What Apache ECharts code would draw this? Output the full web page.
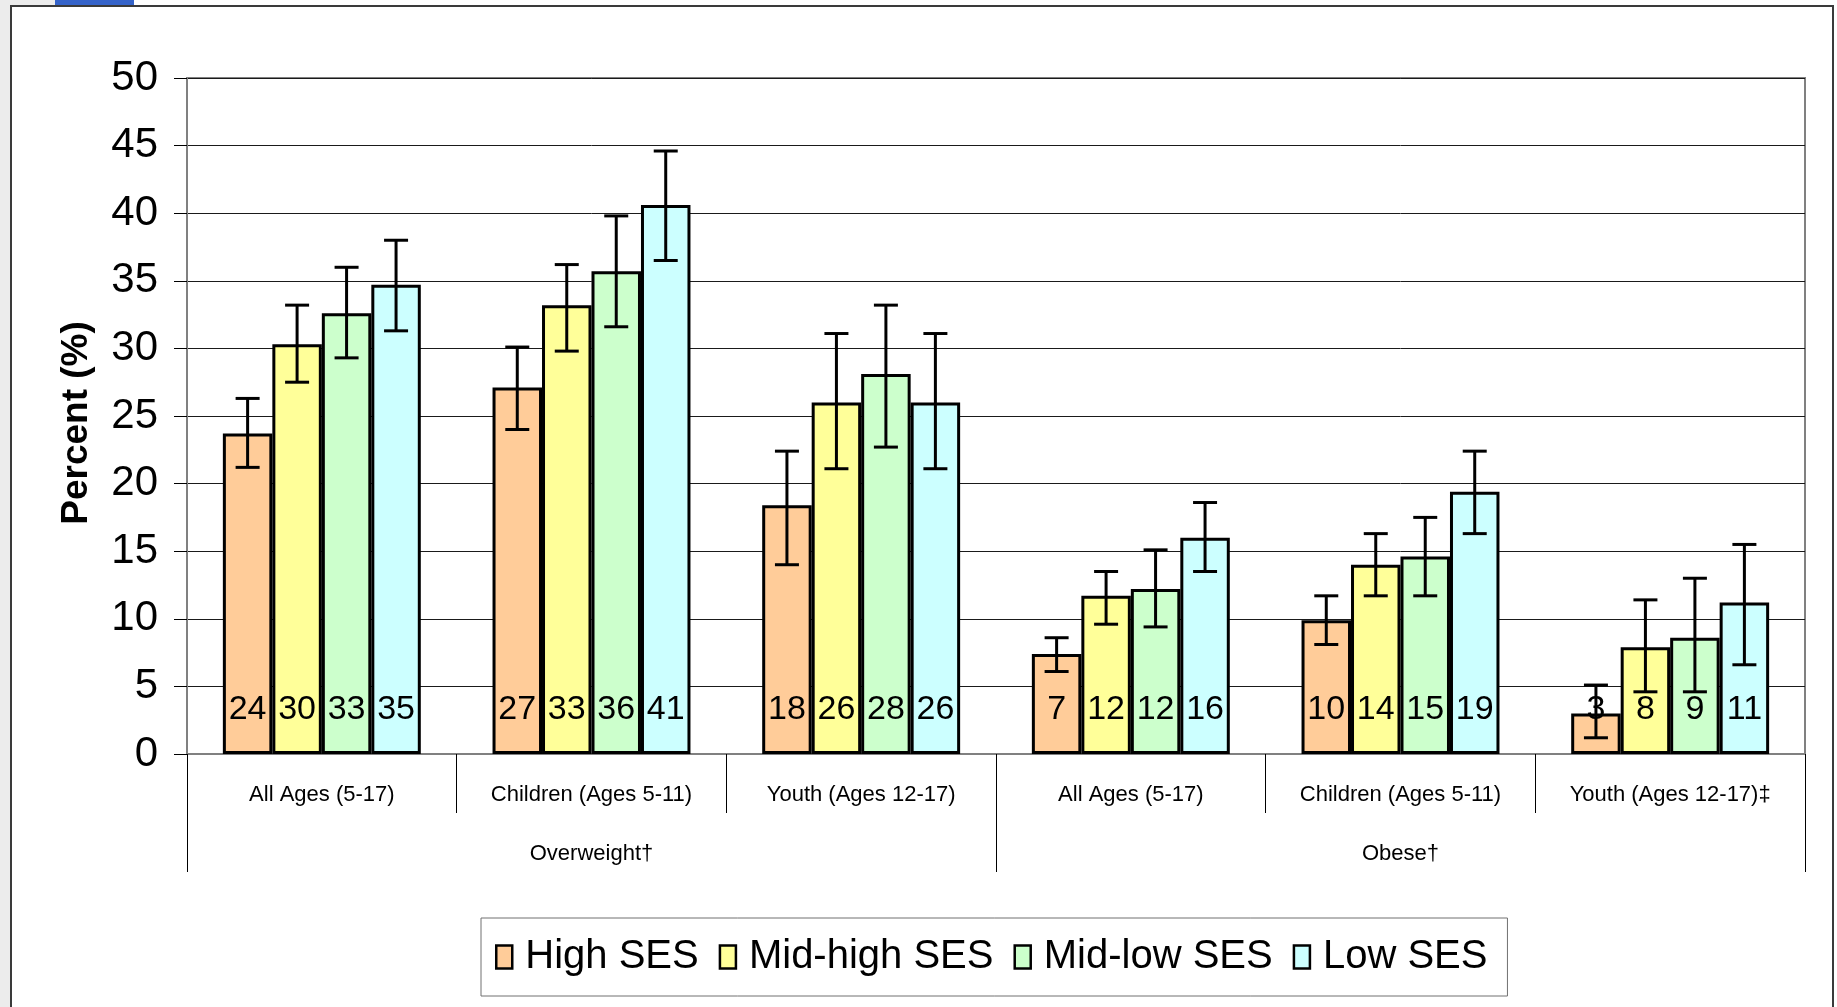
<!DOCTYPE html>
<html>
<head>
<meta charset="utf-8">
<script src="https://cdn.jsdelivr.net/npm/echarts@6/dist/echarts.min.js"></script>
<style>
  html, body { margin: 0; padding: 0; background: #fff; }
  #chart { width: 1837px; height: 1007px; }
</style>
</head>
<body>
<div id="chart"></div>
<script>
// categories
const subCats = ['All Ages (5-17)', 'Children (Ages 5-11)', 'Youth (Ages 12-17)',
                 'All Ages (5-17)', 'Children (Ages 5-11)', 'Youth (Ages 12-17)\u2021'];
const groupCats = ['Overweight\u2020', 'Obese\u2020'];
const seriesNames = ['High SES', 'Mid-high SES', 'Mid-low SES', 'Low SES'];
const yTicks = [0, 5, 10, 15, 20, 25, 30, 35, 40, 45, 50];

// bar values (%)
const highSES    = [23.7, 27.1, 18.4, 7.4, 9.9, 3.0];
const midHighSES = [30.3, 33.2, 26.0, 11.7, 14.0, 7.9];
const midLowSES  = [32.6, 35.7, 28.1, 12.2, 14.6, 8.6];
const lowSES     = [34.7, 40.6, 26.0, 16.0, 19.4, 11.2];

// confidence intervals (lower / upper)
const highLo    = [21.2, 24.0, 14.0, 6.1, 8.1, 1.2];
const highHi    = [26.3, 30.1, 22.4, 8.6, 11.7, 5.1];
const midHighLo = [27.5, 29.8, 21.1, 9.6, 11.7, 4.6];
const midHighHi = [33.2, 36.2, 31.1, 13.5, 16.3, 11.4];
const midLowLo  = [29.3, 31.6, 22.7, 9.4, 11.7, 4.6];
const midLowHi  = [36.0, 39.8, 33.2, 15.1, 17.5, 13.0];
const lowLo     = [31.3, 36.5, 21.1, 13.5, 16.3, 6.6];
const lowHi     = [38.0, 44.6, 31.1, 18.6, 22.4, 15.5];

const COLORS = ['#FFCC99', '#FFFF99', '#CCFFCC', '#CCFFFF'];
const FONT = "'Liberation Sans', Arial, sans-serif";
const CAT_GAP = 0.266;

const values = [highSES, midHighSES, midLowSES, lowSES];
const lows = [highLo, midHighLo, midLowLo, lowLo];
const highs = [highHi, midHighHi, midLowHi, lowHi];

// error bar drawn over bar k of each category
function errorBar(k) {
    return function (params, api) {
        const cat = api.value(0);
        const lo = api.coord([cat, api.value(1)]);
        const hi = api.coord([cat, api.value(2)]);
        const band = api.size([1, 0])[0];
        const barW = band * (1 - CAT_GAP) / 4;
        const x = lo[0] + (k - 1.5) * barW;
        const cap = 12;
        const style = { stroke: '#000', lineWidth: 3 };
        return {
            type: 'group',
            children: [
                { type: 'line', shape: { x1: x, y1: lo[1], x2: x, y2: hi[1] }, style: style },
                { type: 'line', shape: { x1: x - cap, y1: lo[1], x2: x + cap, y2: lo[1] }, style: style },
                { type: 'line', shape: { x1: x - cap, y1: hi[1], x2: x + cap, y2: hi[1] }, style: style }
            ]
        };
    };
}

const barSeries = seriesNames.map(function (name, k) {
    return {
        name: name,
        type: 'bar',
        xAxisIndex: 0,
        data: values[k],
        barGap: '0%',
        barCategoryGap: (CAT_GAP * 100) + '%',
        itemStyle: { color: COLORS[k], borderColor: '#000', borderWidth: 3 },
        label: {
            show: true,
            position: 'insideBottom',
            distance: 27,
            fontSize: 34,
            fontFamily: FONT,
            color: '#000',
            formatter: function (p) { return Math.round(p.value); }
        },
        z: 2
    };
});

const errSeries = seriesNames.map(function (name, k) {
    return {
        name: name + ' CI',
        type: 'custom',
        xAxisIndex: 0,
        renderItem: errorBar(k),
        encode: { x: 0, y: [1, 2] },
        data: values[k].map(function (v, i) { return [i, lows[k][i], highs[k][i]]; }),
        z: 5,
        silent: true
    };
});

const chart = echarts.init(document.getElementById('chart'));
chart.setOption({
    backgroundColor: '#fff',
    animation: false,
    textStyle: { fontFamily: FONT },
    graphic: [
        { type: 'rect', z: -10, shape: { x: 0, y: 0, width: 1837, height: 1007 }, style: { fill: '#ececec' } },
        { type: 'rect', z: -10, shape: { x: 130, y: 0, width: 1707, height: 7 }, style: { fill: '#fff' } },
        { type: 'rect', z: -10, shape: { x: 55, y: 0, width: 79, height: 5 }, style: { fill: '#3563c9' } },
        { type: 'rect', z: -10, shape: { x: 1834, y: 0, width: 3, height: 1007 }, style: { fill: '#fff' } },
        { type: 'rect', z: -9, shape: { x: 11, y: 6, width: 1822, height: 1010 }, style: { fill: '#fff', stroke: '#3a3a3a', lineWidth: 2 } }
    ],
    legend: {
        data: seriesNames,
        left: 481,
        top: 918,
        orient: 'horizontal',
        padding: [19, 20, 19, 14],
        itemGap: 20,
        itemWidth: 16,
        itemHeight: 23,
        icon: 'rect',
        borderColor: '#707070',
        borderWidth: 1,
        backgroundColor: '#fff',
        itemStyle: { borderColor: '#000', borderWidth: 2.5 },
        textStyle: { fontSize: 40, color: '#000', fontFamily: FONT, padding: [0, 0, 0, 8] }
    },
    grid: {
        left: 187,
        right: 32,
        top: 78,
        bottom: 253,
        show: true,
        borderColor: '#808080',
        borderWidth: 2,
        containLabel: false
    },
    xAxis: [
        {
            type: 'category',
            data: subCats,
            position: 'bottom',
            axisLine: { show: true, lineStyle: { color: '#808080', width: 2 } },
            axisTick: { show: true, interval: 0, length: 59, lineStyle: { color: '#000', width: 1 } },
            axisLabel: { interval: 0, margin: 30, fontSize: 22, color: '#000', fontFamily: FONT },
            splitLine: { show: false }
        },
        {
            type: 'category',
            data: groupCats,
            position: 'bottom',
            axisLine: { show: false },
            axisTick: { show: true, interval: 0, length: 118, lineStyle: { color: '#000', width: 1 } },
            axisLabel: { interval: 0, margin: 89, fontSize: 22, color: '#000', fontFamily: FONT },
            splitLine: { show: false }
        }
    ],
    yAxis: {
        type: 'value',
        min: yTicks[0],
        max: yTicks[yTicks.length - 1],
        interval: 5,
        name: 'Percent (%)',
        nameLocation: 'middle',
        nameGap: 92,
        nameTextStyle: { fontSize: 37, fontWeight: 'bold', color: '#000', fontFamily: FONT, padding: [0, 14, 0, 0] },
        axisLine: { show: true, lineStyle: { color: '#808080', width: 2 } },
        axisTick: { show: true, inside: false, length: 13, lineStyle: { color: '#000', width: 1 } },
        axisLabel: { margin: 29, fontSize: 42, color: '#000', fontFamily: FONT, padding: [4, 0, 0, 0] },
        splitLine: { show: true, lineStyle: { color: '#1a1a1a', width: 1 } }
    },
    series: barSeries.concat(errSeries)
});
</script>
</body>
</html>
